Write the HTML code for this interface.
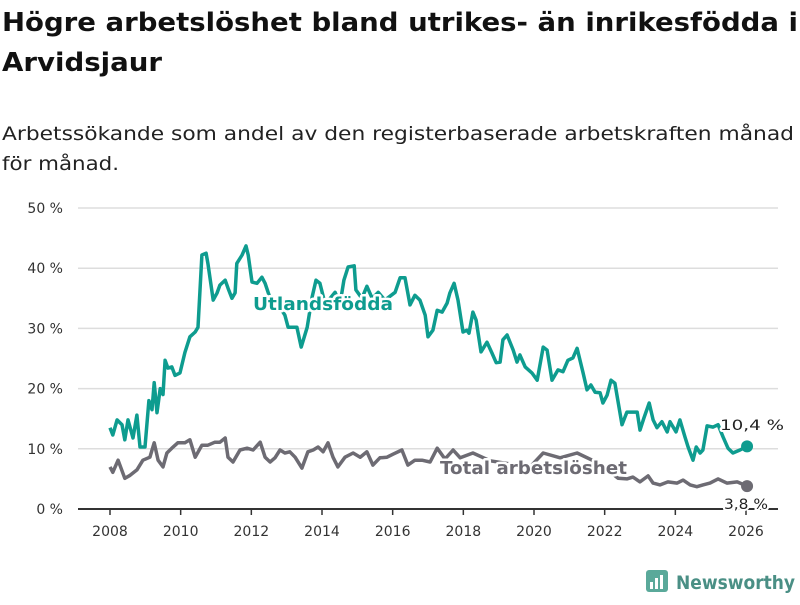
<!DOCTYPE html>
<html><head><meta charset="utf-8"><style>
body{margin:0;background:#fff;}
svg text{font-family:"DejaVu Sans","Liberation Sans",sans-serif;}
</style></head><body>
<svg id="chart" width="800" height="600" viewBox="0 0 800 600" xmlns="http://www.w3.org/2000/svg">
<text x="2" y="31" font-size="26" font-weight="bold" fill="#111" textLength="796" lengthAdjust="spacingAndGlyphs">Högre arbetslöshet bland utrikes- än inrikesfödda i</text>
<text x="2" y="71" font-size="26" font-weight="bold" fill="#111" textLength="160" lengthAdjust="spacingAndGlyphs">Arvidsjaur</text>
<text x="2" y="140" font-size="19" fill="#222" textLength="792" lengthAdjust="spacingAndGlyphs">Arbetssökande som andel av den registerbaserade arbetskraften månad</text>
<text x="2" y="170" font-size="19" fill="#222" textLength="117" lengthAdjust="spacingAndGlyphs">för månad.</text>
<g id="grid"></g><g id="series"></g><g id="labels"></g>
<g>
<rect x="646" y="570" width="22" height="22" rx="3" fill="#5aa99a"/>
<rect x="650" y="582" width="3" height="7" fill="#fff"/><rect x="655" y="578" width="3" height="11" fill="#fff"/><rect x="660" y="575" width="3" height="14" fill="#fff"/>
<text x="676" y="589" font-size="19" font-weight="bold" fill="#4a8f85" textLength="119" lengthAdjust="spacingAndGlyphs">Newsworthy</text>
</g>
</svg>
<script>
const yTicks=[0,10,20,30,40,50];
const xTicks=[2008,2010,2012,2014,2016,2018,2020,2022,2024,2026];
const foreignYears=[2008.0,2008.08,2008.2,2008.34,2008.42,2008.51,2008.65,2008.76,2008.85,2008.99,2009.1,2009.19,2009.25,2009.33,2009.42,2009.5,2009.56,2009.64,2009.75,2009.84,2009.98,2010.12,2010.26,2010.41,2010.49,2010.6,2010.72,2010.77,2010.92,2011.03,2011.11,2011.26,2011.34,2011.45,2011.54,2011.59,2011.74,2011.85,2011.91,2012.02,2012.16,2012.3,2012.39,2012.53,2012.67,2012.81,2012.95,2013.04,2013.29,2013.41,2013.58,2013.72,2013.83,2013.94,2014.09,2014.23,2014.37,2014.51,2014.62,2014.74,2014.91,2014.96,2015.13,2015.27,2015.42,2015.59,2015.78,2016.07,2016.21,2016.35,2016.49,2016.63,2016.77,2016.92,2017.0,2017.14,2017.26,2017.4,2017.54,2017.62,2017.74,2017.85,2017.99,2018.1,2018.16,2018.27,2018.36,2018.5,2018.67,2018.81,2018.93,2019.04,2019.12,2019.24,2019.41,2019.52,2019.6,2019.75,2019.94,2020.09,2020.26,2020.37,2020.51,2020.68,2020.82,2020.96,2021.1,2021.22,2021.39,2021.5,2021.61,2021.73,2021.87,2021.95,2022.07,2022.18,2022.29,2022.49,2022.63,2022.92,2023.0,2023.11,2023.26,2023.37,2023.48,2023.62,2023.77,2023.85,2024.02,2024.13,2024.27,2024.36,2024.5,2024.59,2024.7,2024.78,2024.9,2025.07,2025.21,2025.35,2025.49,2025.63,2025.83,2026.03];
const foreignValues=[13.5,12.3,14.8,14,11.5,14.8,11.8,15.6,10.3,10.3,18,16.5,21,16,20,19,24.7,23.4,23.6,22.2,22.6,26,28.6,29.4,30.2,42.2,42.5,40.8,34.7,35.9,37.2,38,36.7,35,35.9,40.8,42.2,43.7,42.2,37.7,37.5,38.5,37.5,35,33,33.5,32.2,30.2,30.2,26.9,30.2,35.2,38,37.5,34,35,36,34,38,40.2,40.4,36.4,35,37,35,36,34.7,36,38.4,38.4,33.9,35.5,34.7,32.2,28.6,29.7,33,32.7,34.2,35.9,37.5,34.7,29.4,29.7,29.2,32.7,31.4,26.1,27.7,25.9,24.3,24.4,28.1,28.9,26.4,24.4,25.6,23.6,22.6,21.4,26.9,26.4,21.4,23.1,22.8,24.7,25.1,26.7,22.6,19.8,20.6,19.4,19.3,17.6,18.9,21.4,20.9,14,16.1,16.1,13.1,15.1,17.6,14.8,13.5,14.5,12.8,14.5,12.8,14.8,12,10.3,8.1,10.3,9.3,9.8,13.8,13.6,14,12,10.1,9.3,9.8,10.4];
const totalYears=[2008.0,2008.08,2008.23,2008.42,2008.57,2008.76,2008.93,2009.13,2009.25,2009.36,2009.5,2009.61,2009.75,2009.92,2010.12,2010.26,2010.41,2010.6,2010.77,2010.97,2011.11,2011.26,2011.34,2011.48,2011.68,2011.88,2012.05,2012.25,2012.39,2012.53,2012.67,2012.81,2012.95,2013.09,2013.24,2013.43,2013.6,2013.75,2013.89,2014.03,2014.17,2014.31,2014.45,2014.65,2014.88,2015.08,2015.27,2015.44,2015.64,2015.84,2016.01,2016.26,2016.43,2016.63,2016.83,2017.06,2017.26,2017.48,2017.71,2017.91,2018.27,2018.76,2019.32,2019.89,2020.26,2020.74,2021.22,2021.87,2022.38,2022.63,2022.8,2023.0,2023.23,2023.37,2023.57,2023.79,2024.05,2024.22,2024.42,2024.61,2024.78,2024.98,2025.21,2025.46,2025.75,2026.03];
const totalValues=[7,6.1,8.1,5.1,5.6,6.5,8.1,8.6,11,8.1,7,9.3,10.1,11,11,11.5,8.6,10.6,10.6,11.1,11.1,11.8,8.6,7.8,9.8,10.1,9.8,11.1,8.6,7.8,8.5,9.8,9.3,9.5,8.6,6.8,9.5,9.8,10.3,9.5,11,8.6,7,8.6,9.3,8.6,9.5,7.3,8.5,8.6,9.1,9.8,7.3,8.1,8.1,7.8,10.1,8.3,9.8,8.5,9.3,8,7.5,7,9.3,8.5,9.3,7.5,5.1,5,5.3,4.5,5.5,4.3,4,4.5,4.3,4.8,4,3.7,4,4.3,5,4.3,4.5,3.8];
const NS="http://www.w3.org/2000/svg";
const x=y=>110+(y-2008)*(636/18);
const yv=v=>509-v*6.02;
function mk(t,a,p){const e=document.createElementNS(NS,t);for(const k in a)e.setAttribute(k,a[k]);p.appendChild(e);return e;}
const grid=document.getElementById('grid');
yTicks.forEach(t=>{
  if(t>0){const l=mk('line',{x1:78,x2:778,y1:yv(t),y2:yv(t),stroke:'#ddd','stroke-width':1.5},grid);
  
  }
  const tx=mk('text',{x:63,y:yv(t)+5,'font-size':14,fill:'#333','text-anchor':'end'},grid);
  tx.textContent=t+' %';
  
  
});
const ax=mk('line',{x1:78,x2:778,y1:509,y2:509,stroke:'#333','stroke-width':2},grid);


xTicks.forEach(t=>{
  mk('line',{x1:x(t),x2:x(t),y1:509,y2:515,stroke:'#333','stroke-width':1.5},grid);
  const tx=mk('text',{x:x(t),y:536,'font-size':14,fill:'#333','text-anchor':'middle'},grid);
  tx.textContent=t;
  
  
});
const ser=document.getElementById('series');
function line(xs,vs,c,n){
  const d=xs.map((t,i)=>(i?'L':'M')+x(t).toFixed(1)+','+yv(vs[i]).toFixed(1)).join('');
  const p=mk('path',{d:d,fill:'none',stroke:c,'stroke-width':3.5,'stroke-linejoin':'round'},ser);
  
  
  const dot=mk('circle',{cx:x(xs[xs.length-1]),cy:yv(vs[vs.length-1]),r:6,fill:c},ser);
  
  
}
line(totalYears,totalValues,'#6d6b73','total');
line(foreignYears,foreignValues,'#0e9c8f','foreign');
const lab=document.getElementById('labels');
function label(txt,xx,yy,fs,c,w,n,bold,len){
  const a={x:xx,y:yy,'font-size':fs,fill:c,stroke:'#fff','stroke-width':w,'paint-order':'stroke','stroke-linejoin':'round'};
  if(bold)a['font-weight']='bold';
  if(len){a.textLength=len;a.lengthAdjust='spacingAndGlyphs';}
  const t=mk('text',a,lab);t.textContent=txt;
  
  
}
label('Utlandsfödda',253,310,18,'#0e9c8f',5,'foreign-series-label',true,140);
label('Total arbetslöshet',440,474,18,'#6d6b73',5,'total-series-label',true,187);
label('10,4 %',720,430,14,'#222',4,'foreign-end-value',false,64);
label('3,8 %',724,509,14,'#222',4,'total-end-value',false,44);
</script>
</body></html>
